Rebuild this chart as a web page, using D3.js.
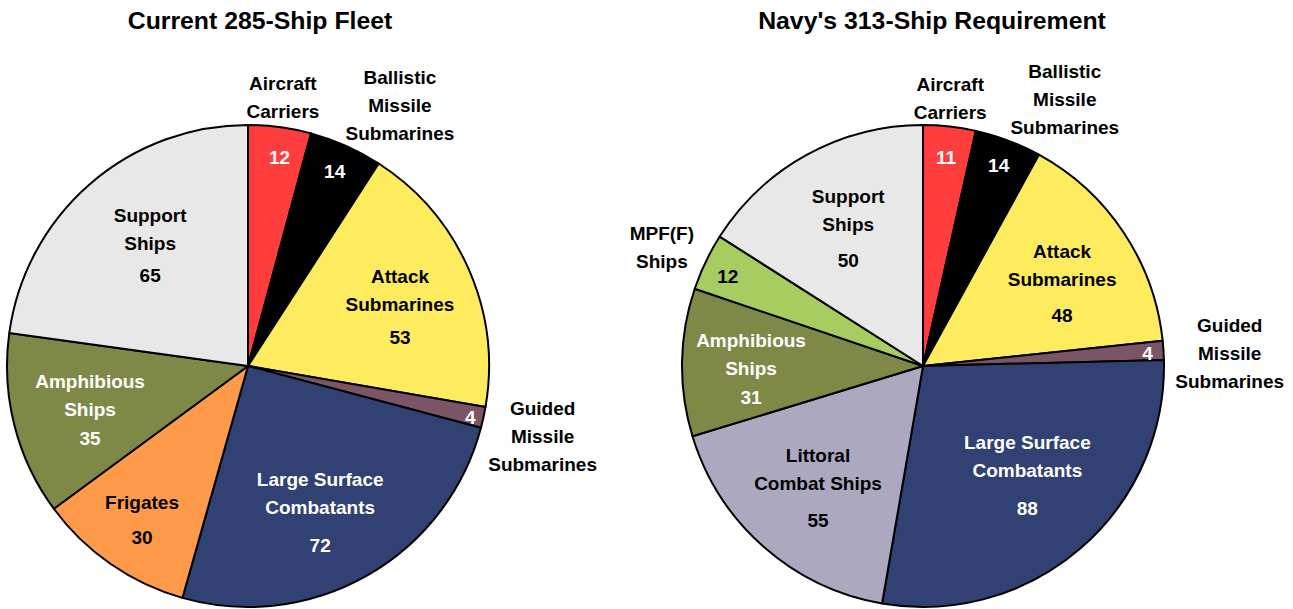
<!DOCTYPE html>
<html><head><meta charset="utf-8">
<script src="https://cdn.jsdelivr.net/npm/d3@7"></script>
<style>
html,body{margin:0;padding:0;background:#fff;}
svg{display:block;}
text{font-family:"Liberation Sans",Arial,sans-serif;font-weight:bold;}
</style></head>
<body>
<svg id="chart" width="1293" height="609"></svg>
<script>
// ---- data ----
const leftTitle = "Current 285-Ship Fleet";
const leftCategories = ["Aircraft Carriers","Ballistic Missile Submarines","Attack Submarines","Guided Missile Submarines","Large Surface Combatants","Frigates","Amphibious Ships","Support Ships"];
const leftValues = [12,14,53,4,72,30,35,65];

const rightTitle = "Navy's 313-Ship Requirement";
const rightCategories = ["Aircraft Carriers","Ballistic Missile Submarines","Attack Submarines","Guided Missile Submarines","Large Surface Combatants","Littoral Combat Ships","Amphibious Ships","MPF(F) Ships","Support Ships"];
const rightValues = [11,14,48,4,88,55,31,12,50];

// ---- styles ----
const colors = {
  "Aircraft Carriers":"#FF3D3D",
  "Ballistic Missile Submarines":"#000000",
  "Attack Submarines":"#FFEB5E",
  "Guided Missile Submarines":"#7B5566",
  "Large Surface Combatants":"#314174",
  "Frigates":"#FF9A4B",
  "Amphibious Ships":"#7E8947",
  "Support Ships":"#E8E8E8",
  "Littoral Combat Ships":"#ABA8BF",
  "MPF(F) Ships":"#A7CC5F"
};
const textColors = {
  "Aircraft Carriers":"#fff","Ballistic Missile Submarines":"#fff","Attack Submarines":"#000",
  "Guided Missile Submarines":"#fff","Large Surface Combatants":"#fff","Frigates":"#000",
  "Amphibious Ships":"#fff","Support Ships":"#000","Littoral Combat Ships":"#000","MPF(F) Ships":"#000"
};
// label text lines
const insideNames = {
  "Attack Submarines":["Attack","Submarines"],
  "Large Surface Combatants":["Large Surface","Combatants"],
  "Frigates":["Frigates"],
  "Amphibious Ships":["Amphibious","Ships"],
  "Support Ships":["Support","Ships"],
  "Littoral Combat Ships":["Littoral","Combat Ships"]
};
const outsideNames = {
  "Aircraft Carriers":["Aircraft","Carriers"],
  "Ballistic Missile Submarines":["Ballistic","Missile","Submarines"],
  "Guided Missile Submarines":["Guided","Missile","Submarines"],
  "MPF(F) Ships":["MPF(F)","Ships"]
};
// layout: r = label radius, da = angle offset (deg) from slice middle, gap = spacing before value, out = [radius, angle] for outside name
const leftLayout = {
  "Aircraft Carriers":{r:211,da:1,out:[271,7.4]},
  "Ballistic Missile Submarines":{r:213,da:0,out:[302,30.2]},
  "Attack Submarines":{r:163,da:2.5,gap:33},
  "Guided Missile Submarines":{r:228,da:0.6,out:[303,103.5]},
  "Large Surface Combatants":{r:163,da:3.4,gap:38},
  "Frigates":{r:187,da:-0.2,gap:35},
  "Amphibious Ships":{r:164,da:-1.4,gap:29},
  "Support Ships":{r:155,da:1.9,gap:32}
};
const rightLayout = {
  "Aircraft Carriers":{r:210,da:0,out:[269,5.8]},
  "Ballistic Missile Submarines":{r:214,da:0,out:[302,28]},
  "Attack Submarines":{r:162,da:2.8,gap:36},
  "Guided Missile Submarines":{r:225,da:0.4,out:[307,87.6]},
  "Large Surface Combatants":{r:151,da:-2.9,gap:38},
  "Littoral Combat Ships":{r:161,da:-0.7,gap:37},
  "Amphibious Ships":{r:172,da:-1.9,gap:29},
  "MPF(F) Ships":{r:215,da:-0.8,out:[287,294.5]},
  "Support Ships":{r:157,da:0.3,gap:36}
};

const svg = d3.select("#chart");
const lineH = 28;
const fontSize = 19;

function drawPie(cfg){
  const g = svg.append("g").attr("transform",`translate(${cfg.cx},${cfg.cy})`);
  const data = cfg.categories.map((c,i)=>({name:c,value:cfg.values[i]}));
  const pie = d3.pie().sort(null).value(d=>d.value);
  const arcs = pie(data);
  const arc = d3.arc().innerRadius(0).outerRadius(cfg.r);
  g.selectAll("path.slice").data(arcs).join("path")
    .attr("class","slice")
    .attr("d",arc)
    .attr("fill",d=>colors[d.data.name])
    .attr("stroke","#000").attr("stroke-width",2).attr("stroke-linejoin","round");

  svg.append("text").attr("x",cfg.titleX).attr("y",cfg.titleY)
    .attr("text-anchor","middle").attr("font-size",24.8).attr("fill","#000")
    .attr("dy","0.35em").text(cfg.title);

  const pol = (r,deg)=>{const a=deg*Math.PI/180;return [r*Math.sin(a),-r*Math.cos(a)];};

  arcs.forEach(d=>{
    const name=d.data.name, L=cfg.layout[name];
    const mid=(d.startAngle+d.endAngle)/2*180/Math.PI + L.da;
    const [x,y]=pol(L.r,mid);
    const col=textColors[name];
    if(insideNames[name]){
      const lines=insideNames[name];
      const total=(lines.length-1)*lineH+L.gap;
      let y0=y-total/2;
      lines.forEach((t,i)=>{
        g.append("text").attr("x",x).attr("y",y0+i*lineH).attr("dy","0.35em")
          .attr("text-anchor","middle").attr("font-size",fontSize).attr("fill",col).text(t);
      });
      g.append("text").attr("x",x).attr("y",y0+(lines.length-1)*lineH+L.gap).attr("dy","0.35em")
        .attr("text-anchor","middle").attr("font-size",fontSize).attr("fill",col).text(d.data.value);
    } else {
      g.append("text").attr("x",x).attr("y",y).attr("dy","0.35em")
        .attr("text-anchor","middle").attr("font-size",fontSize).attr("fill",col).text(d.data.value);
      const lines=outsideNames[name];
      const [ox,oy]=pol(L.out[0],L.out[1]);
      const y0=oy-(lines.length-1)*lineH/2;
      lines.forEach((t,i)=>{
        g.append("text").attr("x",ox).attr("y",y0+i*lineH).attr("dy","0.35em")
          .attr("text-anchor","middle").attr("font-size",fontSize).attr("fill","#000").text(t);
      });
    }
  });
}

drawPie({cx:248,cy:366,r:241,title:leftTitle,titleX:260,titleY:20,categories:leftCategories,values:leftValues,layout:leftLayout});
drawPie({cx:923,cy:366,r:241,title:rightTitle,titleX:932,titleY:20,categories:rightCategories,values:rightValues,layout:rightLayout});
</script>
</body></html>
